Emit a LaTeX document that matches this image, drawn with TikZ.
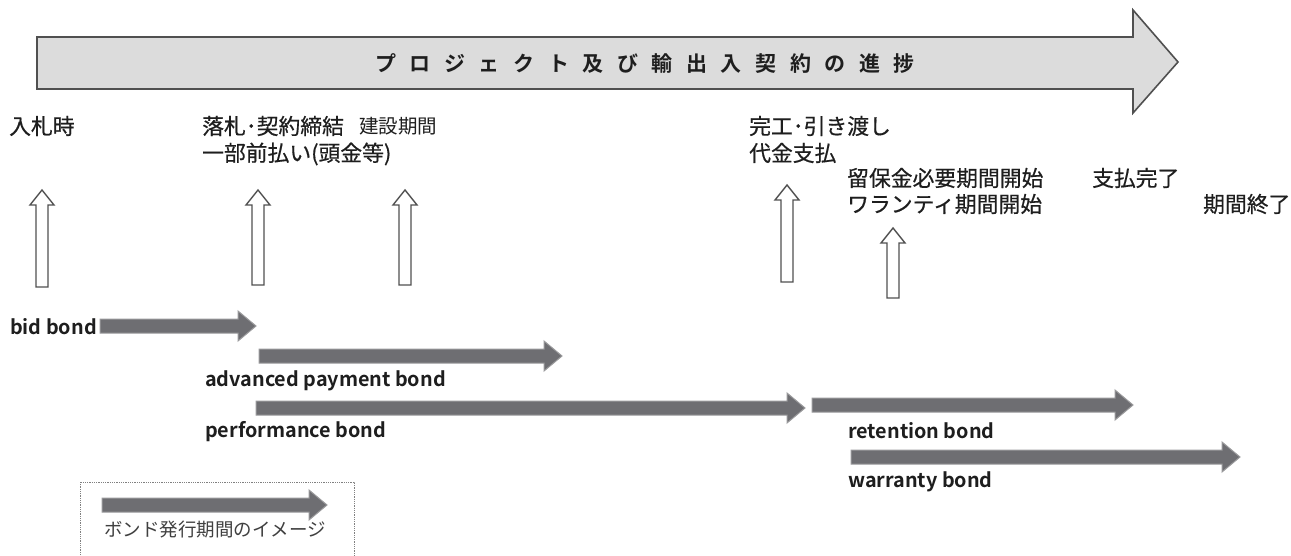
\documentclass[tikz,border=0pt]{standalone}
\usepackage{fontspec}
\setmainfont{Noto Sans CJK JP}
\newfontfamily\jpmed[FakeBold=0.5]{Noto Sans CJK JP}
\newfontfamily\jpbold{Noto Sans CJK JP Bold}
\definecolor{bigfill}{HTML}{DCDCDC}
\definecolor{bigline}{HTML}{505050}
\definecolor{bondfill}{HTML}{6E6E72}
\definecolor{bondline}{HTML}{9A9A9C}
\definecolor{txt}{HTML}{1E1E1E}
\tikzset{
  bigarrow/.style={fill=bigfill,draw=bigline,line width=1.6pt,line join=miter},
  bondarrow/.style={fill=bondfill,draw=bondline,line width=1pt},
  hollow/.style={fill=white,draw=bigline,line width=1.4pt,line join=miter},
  jlabel/.style={anchor=west,inner sep=0pt,text=txt,font=\jpmed\fontsize{21.8}{25}\selectfont},
  jsmall/.style={anchor=west,inner sep=0pt,text=txt,font=\fontsize{19.5}{22}\selectfont},
  blabel/.style={anchor=west,inner sep=0pt,text=txt,font=\jpbold\fontsize{19.8}{23}\selectfont},
}
\newcommand{\bondarr}[3]{% x start, x tip, y center
  \draw[bondarrow] (#1,#3-7) -- (#2-18,#3-7) -- (#2-18,#3-15) -- (#2,#3)
    -- (#2-18,#3+15) -- (#2-18,#3+7) -- (#1,#3+7) -- cycle;}
\newcommand{\uparr}[3]{% x center, y top, y bottom
  \draw[hollow] (#1-6,#3) -- (#1-6,#2+15) -- (#1-12,#2+15) -- (#1,#2)
    -- (#1+12,#2+15) -- (#1+6,#2+15) -- (#1+6,#3) -- cycle;}
\newcommand{\tg}{\hspace{13.6pt}}
\begin{document}
\begin{tikzpicture}[x=1pt,y=-1pt]
\clip (0,0) rectangle (1291,556);
\fill[white] (0,0) rectangle (1291,556);
% big progress arrow
\draw[bigarrow] (37,37) -- (1133,37) -- (1133,10) -- (1178,62) -- (1133,113)
  -- (1133,89) -- (37,89) -- cycle;
\node[anchor=center,inner sep=0pt,text=txt,font=\jpbold\fontsize{21}{25}\selectfont]
  (title) at (645,64) {プ\tg ロ\tg ジ\tg ェ\tg ク\tg ト\tg 及\tg び\tg 輸\tg 出\tg 入\tg 契\tg 約\tg の\tg 進\tg 捗};
% milestone labels
\node[jlabel] (bid) at (9,126) {入札時};
\node[jlabel] (award) at (202,126) {落札･契約締結};
\node[jsmall] (constr) at (359,126) {建設期間};
\node[jlabel] (advpay) at (202,154) {一部前払い(頭金等)};
\node[jlabel] (compl) at (749,126) {完工･引き渡し};
\node[jlabel] (pay) at (749,153) {代金支払};
\node[jlabel] (ret) at (847,178) {留保金必要期間開始};
\node[jlabel] (war) at (847,204) {ワランティ期間開始};
\node[jlabel] (paid) at (1092,178) {支払完了};
\node[jlabel] (end) at (1203,204) {期間終了};
% hollow up arrows
\uparr{42}{190}{287}
\uparr{258}{190}{285}
\uparr{405}{190}{285}
\uparr{787}{185}{282}
\uparr{893}{228}{298}
% bond arrows
\bondarr{100}{256}{326}
\node[blabel] (bidb) at (10,327) {bid bond};
\bondarr{259}{562}{356}
\node[blabel] (advb) at (205,381) {advanced payment bond};
\bondarr{256}{805}{408}
\node[blabel] (perfb) at (205,432) {performance bond};
\bondarr{812}{1133}{405}
\node[blabel] (retb) at (848,431) {retention bond};
\bondarr{851}{1240}{457}
\node[blabel] (warb) at (848,482) {warranty bond};
% legend
\draw[draw=gray,densely dotted,line width=0.8pt] (80,482) rectangle (354,570);
\bondarr{102}{327}{505}
\node[anchor=west,inner sep=0pt,text=black!75,font=\fontsize{18.5}{21}\selectfont] (leg) at (104,530) {ボンド発行期間のイメージ};
\end{tikzpicture}
\end{document}
